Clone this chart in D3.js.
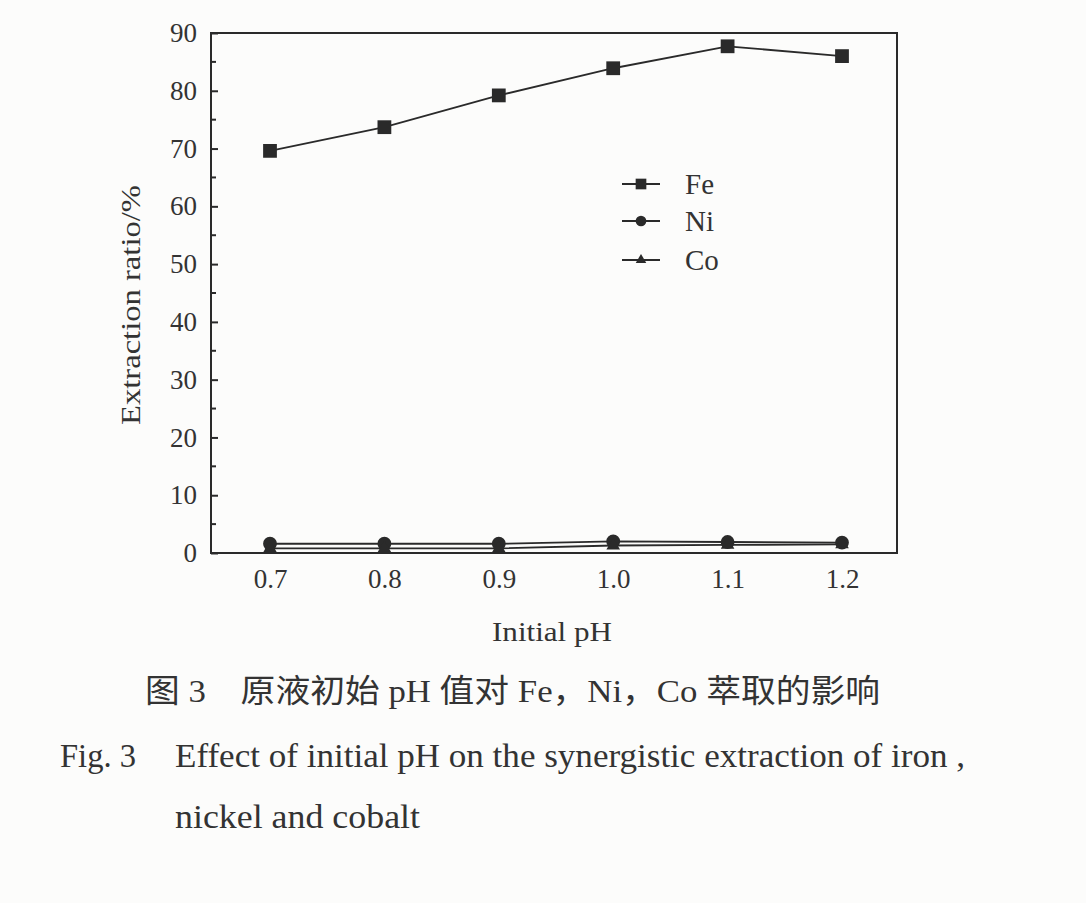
<!DOCTYPE html>
<html><head><meta charset="utf-8">
<script src="https://cdn.jsdelivr.net/npm/d3@7"></script>
<style>
body{margin:0;background:#fcfcfb;}
svg{display:block;}
text{font-family:"Liberation Serif","DejaVu Serif",serif;fill:#333;}
</style></head>
<body>
<svg id="c" width="1086" height="903"></svg>
<script>
const phValues = [0.7, 0.8, 0.9, 1.0, 1.1, 1.2];
const feValues = [69.6, 73.7, 79.2, 83.9, 87.7, 86.0];
const niValues = [1.6, 1.6, 1.6, 2.0, 1.9, 1.8];
const coValues = [0.8, 0.8, 0.8, 1.3, 1.4, 1.5];
const seriesNames = ["Fe", "Ni", "Co"];
const yTicks = [0,10,20,30,40,50,60,70,80,90];
const xTicks = [0.7,0.8,0.9,1.0,1.1,1.2];
const xTitle = "Initial pH";
const yTitle = "Extraction ratio/%";
const captionCn = "图 3　原液初始 pH 值对 Fe，Ni，Co 萃取的影响";
const captionEnLabel = "Fig. 3";
const captionEn1 = "Effect of initial pH on the synergistic extraction of iron ,";
const captionEn2 = "nickel and cobalt";

const svg = d3.select("#c");
const L = 211, R = 897, T = 33, B = 553;
const x = d3.scaleLinear().domain([0.7,1.2]).range([270,842]);
const y = d3.scaleLinear().domain([0,90]).range([B,T]);
const ink = "#2a2a2a";

svg.append("rect").attr("x",L).attr("y",T).attr("width",R-L).attr("height",B-T)
  .attr("fill","none").attr("stroke",ink).attr("stroke-width",2);

const yAxis = d3.axisLeft(y).tickValues(yTicks).tickSizeInner(-7).tickSizeOuter(0).tickPadding(14);
const gy = svg.append("g").attr("transform",`translate(${L},0)`).call(yAxis);
gy.select(".domain").remove();
gy.selectAll("line").attr("stroke",ink).attr("stroke-width",2);
gy.selectAll("text").attr("font-size",27).attr("fill","#333").style("font-family","Liberation Serif");
svg.append("g").selectAll("line").data(d3.range(5,90,10)).join("line")
  .attr("x1",L).attr("x2",L+5).attr("y1",d=>y(d)).attr("y2",d=>y(d)).attr("stroke",ink).attr("stroke-width",2);

const xAxis = d3.axisBottom(x).tickValues(xTicks).tickFormat(d3.format(".1f")).tickSize(0).tickPadding(16);
const gx = svg.append("g").attr("transform",`translate(0,${B})`).call(xAxis);
gx.select(".domain").remove();
gx.selectAll("text").attr("font-size",27).attr("fill","#333").style("font-family","Liberation Serif");

svg.append("text").attr("x",492).attr("y",641).attr("font-size",27)
  .attr("textLength",120).attr("lengthAdjust","spacingAndGlyphs").text(xTitle);
svg.append("text").attr("transform","translate(140,425) rotate(-90)").attr("font-size",28)
  .attr("textLength",240).attr("lengthAdjust","spacingAndGlyphs").text(yTitle);

const series = [
  {name:"Fe", vals:feValues, sym:d3.symbolSquare, size:190},
  {name:"Ni", vals:niValues, sym:d3.symbolCircle, size:150},
  {name:"Co", vals:coValues, sym:d3.symbolTriangle, size:80}
];
const line = d3.line().x(d=>x(d[0])).y(d=>y(d[1]));
series.forEach(s=>{
  const pts = phValues.map((p,i)=>[p,s.vals[i]]);
  svg.append("path").attr("d",line(pts)).attr("fill","none").attr("stroke",ink).attr("stroke-width",1.8);
  svg.append("g").selectAll("path").data(pts).join("path")
    .attr("transform",d=>`translate(${x(d[0])},${y(d[1])})`)
    .attr("d",d3.symbol().type(s.sym).size(s.size)).attr("fill",ink);
});

const legY = [184,221,260];
series.forEach((s,i)=>{
  const g = svg.append("g").attr("transform",`translate(0,${legY[i]})`);
  g.append("line").attr("x1",622).attr("x2",660).attr("y1",0).attr("y2",0).attr("stroke",ink).attr("stroke-width",1.8);
  g.append("path").attr("transform","translate(641,0)").attr("d",d3.symbol().type(s.sym).size(s.size*0.6)).attr("fill",ink);
  g.append("text").attr("x",685).attr("y",10).attr("font-size",29).text(seriesNames[i]);
});

svg.append("text").attr("x",145).attr("y",702).attr("font-size",32)
  .attr("textLength",735).attr("lengthAdjust","spacingAndGlyphs")
  .style("font-family","'Liberation Serif','Noto Sans CJK SC'").text(captionCn);
svg.append("text").attr("x",60).attr("y",767).attr("font-size",33)
  .attr("textLength",76).attr("lengthAdjust","spacingAndGlyphs").text(captionEnLabel);
svg.append("text").attr("x",175).attr("y",767).attr("font-size",33).attr("textLength",790).attr("lengthAdjust","spacingAndGlyphs").text(captionEn1);
svg.append("text").attr("x",175).attr("y",828).attr("font-size",33).attr("textLength",245).attr("lengthAdjust","spacingAndGlyphs").text(captionEn2);
</script>
</body></html>
